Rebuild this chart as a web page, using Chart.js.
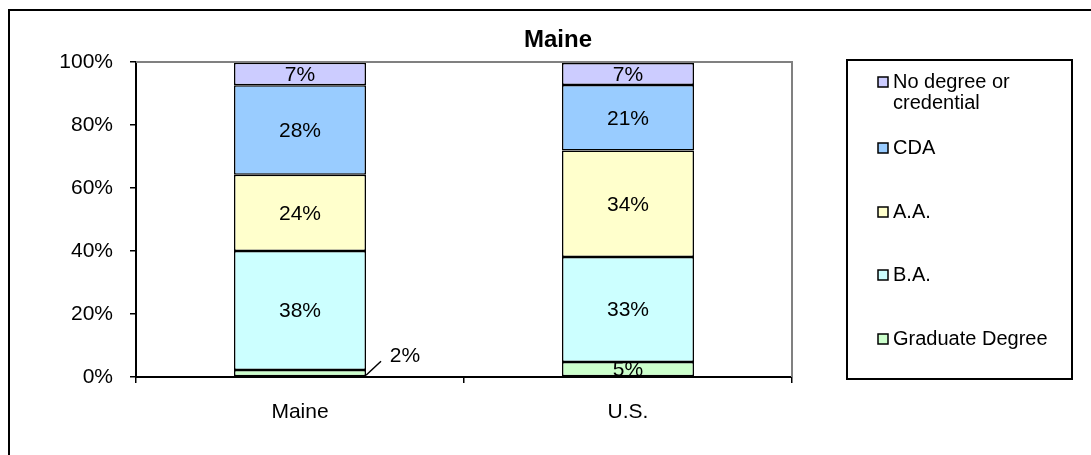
<!DOCTYPE html>
<html>
<head>
<meta charset="utf-8">
<script src="https://cdn.jsdelivr.net/npm/chart.js@4"></script>
<style>
  body { margin: 0; background: #fff; }
  #wrap { width: 1091px; height: 455px; position: relative; }
</style>
</head>
<body>
<div id="wrap"><canvas id="myChart" width="1091" height="455"></canvas></div>
<script>
//Data_
const categories = ['Maine', 'U.S.'];
const seriesNames = ['Graduate Degree', 'B.A.', 'A.A.', 'CDA', 'No degree or credential'];
const graduate = [2.2, 4.8];
const ba = [37.8, 33.3];
const aa = [24.2, 33.8];
const cda = [28.4, 20.8];
const noDegree = [7.2, 7.0];
const yTicks = [0, 20, 40, 60, 80, 100];
const chartTitle = 'Maine';

//Styles_
const colors = ['#CCFFCC', '#CCFFFF', '#FFFFCC', '#99CCFF', '#CCCCFF'];
const fontName = '"Liberation Sans", Arial, sans-serif';
const graph = document.getElementById('myChart');

//Functions_
function wrapText(ctx, text, maxWidth) {
    const words = text.split(' ');
    const lines = [];
    let line = '';
    words.forEach((w) => {
        const test = line ? line + ' ' + w : w;
        if (ctx.measureText(test).width > maxWidth && line) {
            lines.push(line);
            line = w;
        } else {
            line = test;
        }
    });
    lines.push(line);
    return lines;
}

const extras = {
    id: 'extras',
    beforeDraw(chart) {
        const ctx = chart.ctx;
        ctx.save();
        ctx.fillStyle = '#fff';
        ctx.fillRect(0, 0, chart.width, chart.height);
        // outer frame, runs past the picture on right and bottom
        ctx.strokeStyle = '#000';
        ctx.lineWidth = 2;
        ctx.strokeRect(9, 10, 1200, 600);
        ctx.restore();
    },
    afterDatasetsDraw(chart) {
        const ctx = chart.ctx;
        const area = chart.chartArea;
        ctx.save();
        // gray plot border top and right
        ctx.strokeStyle = '#808080';
        ctx.lineWidth = 2;
        ctx.beginPath();
        ctx.moveTo(area.left, area.top);
        ctx.lineTo(area.right, area.top);
        ctx.lineTo(area.right, area.bottom);
        ctx.stroke();

        // value labels
        ctx.font = '21px ' + fontName;
        ctx.fillStyle = '#000';
        ctx.textAlign = 'center';
        ctx.textBaseline = 'middle';
        chart.data.datasets.forEach((ds, i) => {
            const meta = chart.getDatasetMeta(i);
            meta.data.forEach((bar, j) => {
                const v = ds.data[j];
                const txt = Math.round(v) + '%';
                const top = Math.min(bar.y, bar.base);
                const bottom = Math.max(bar.y, bar.base);
                if (v < 3) {
                    const right = bar.x + bar.width / 2;
                    ctx.strokeStyle = '#000';
                    ctx.lineWidth = 1.5;
                    ctx.beginPath();
                    ctx.moveTo(right, bottom - 1);
                    ctx.lineTo(right + 15, bottom - 15);
                    ctx.stroke();
                    ctx.fillText(txt, right + 39, bottom - 20);
                } else {
                    ctx.fillText(txt, bar.x, (top + bottom) / 2 + 1);
                }
            });
        });
        ctx.restore();
    },
    afterDraw(chart) {
        const ctx = chart.ctx;
        ctx.save();
        // title
        ctx.font = 'bold 24px ' + fontName;
        ctx.fillStyle = '#000';
        ctx.textAlign = 'center';
        ctx.textBaseline = 'middle';
        ctx.fillText(chartTitle, 558, 40);

        // legend box
        ctx.strokeStyle = '#000';
        ctx.lineWidth = 2;
        ctx.strokeRect(847, 60, 225, 319);
        const rowY = [82, 148, 212, 275, 339];
        ctx.font = '20px ' + fontName;
        ctx.textAlign = 'left';
        const ds = chart.data.datasets.slice().reverse();
        ds.forEach((d, k) => {
            const y = rowY[k];
            ctx.fillStyle = d.backgroundColor;
            ctx.fillRect(878, y - 5, 10, 10);
            ctx.strokeStyle = '#000';
            ctx.lineWidth = 1.5;
            ctx.strokeRect(878, y - 5, 10, 10);
            ctx.fillStyle = '#000';
            const lines = wrapText(ctx, d.label, 165);
            lines.forEach((ln, n) => {
                ctx.fillText(ln, 893, y + n * 21);
            });
        });
        ctx.restore();
    }
};

const seriesValues = [graduate, ba, aa, cda, noDegree];
const datasets = seriesNames.map((name, i) => ({
    label: name,
    data: seriesValues[i],
    backgroundColor: colors[i],
    borderColor: '#000',
    borderWidth: 1.5,
    borderSkipped: false,
    inflateAmount: 0,
    categoryPercentage: 1,
    barPercentage: 0.4024
}));

const config = {
    type: 'bar',
    data: {
        labels: categories,
        datasets: datasets
    },
    options: {
        responsive: false,
        animation: false,
        events: [],
        layout: {
            padding: { top: 62, right: 299, left: 0, bottom: 0 }
        },
        plugins: {
            legend: { display: false },
            title: { display: false },
            tooltip: { enabled: false }
        },
        scales: {
            x: {
                stacked: true,
                afterFit: (scale) => { scale.height = 78; },
                grid: {
                    drawOnChartArea: false,
                    tickLength: 6,
                    color: '#000',
                    lineWidth: 1.5
                },
                border: { color: '#000', width: 2 },
                ticks: {
                    color: '#000',
                    padding: 17,
                    font: { family: fontName, size: 21 }
                }
            },
            y: {
                stacked: true,
                min: 0,
                max: 100,
                afterFit: (scale) => { scale.width = 136; },
                afterBuildTicks: (scale) => {
                    scale.ticks = yTicks.map(v => ({ value: v }));
                },
                grid: {
                    drawOnChartArea: false,
                    tickLength: 6,
                    color: '#000',
                    lineWidth: 1.5
                },
                border: { color: '#000', width: 2 },
                ticks: {
                    color: '#000',
                    padding: 17,
                    font: { family: fontName, size: 21 },
                    callback: (value) => value + '%'
                }
            }
        }
    },
    plugins: [extras]
};

new Chart(graph, config);
</script>
</body>
</html>
